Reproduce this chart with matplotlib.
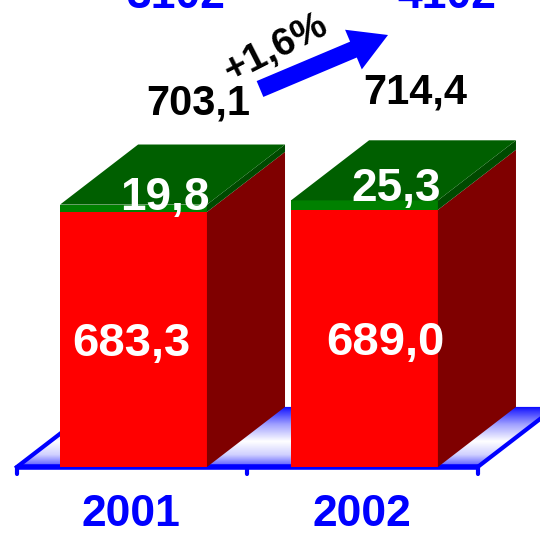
"""3D-style stacked bars: 2001 vs 2002 totals."""

import matplotlib
matplotlib.use('Agg')
import matplotlib.pyplot as plt
import numpy as np
from matplotlib.patches import Polygon
from matplotlib.colors import LinearSegmentedColormap

years = ['2001', '2002']
base_values = [683.3, 689.0]
top_values = [19.8, 25.3]
totals = [703.1, 714.4]
base_labels = ['683,3', '689,0']
top_labels = ['19,8', '25,3']
total_labels = ['703,1', '714,4']
change_label = '+1,6%'
header_labels = ['3102', '4102']

plt.rcParams['font.family'] = ['Liberation Sans', 'DejaVu Sans']
plt.rcParams['font.weight'] = 'bold'

W, H = 540, 534
fig = plt.figure(figsize=(W / 100, H / 100), dpi=100)
ax = fig.add_axes([0, 0, 1, 1])
ax.set_xlim(-0.578, 1.760)
ax.set_ylim(-179.5, 1251.3)
ax.axis('off')

# depth of the fake 3D extrusion (in data units)
ddx = 0.338
ddy = 161.0
width = 0.636
x = np.arange(len(years))

# floor
xl, xr = -0.505, 1.49
floor = Polygon([(xl, 0), (xr, 0), (xr + ddx, ddy), (xl + ddx, ddy)],
                closed=True, facecolor='none', edgecolor='none')
ax.add_patch(floor)
cmap = LinearSegmentedColormap.from_list(
    'floor', [(0.0, '#0000ff'), (0.08, '#3333ff'), (0.3, '#a0a0ff'),
              (0.58, '#ffffff'), (0.8, '#d0d0ff'), (1.0, '#5050ff')])
grad = np.linspace(0, 1, 256).reshape(-1, 1)
im = ax.imshow(grad, cmap=cmap, aspect='auto', origin='upper',
               extent=(xl, xr + ddx, 0, ddy), zorder=1)
im.set_clip_path(floor)
ax.plot([xl, xr], [0, 0], color='#0000ff', lw=4, zorder=2,
        solid_capstyle='butt')
ax.plot([xl, xl + ddx], [0, ddy], color='#0000ff', lw=3, zorder=2)
ax.plot([xr, xr + ddx], [0, ddy], color='#0000ff', lw=3, zorder=2)
for t in [xl, (xl + xr) / 2, xr]:
    ax.plot([t, t], [0, -18], color='#0000ff', lw=3, zorder=2,
            solid_capstyle='round')

# bars
for i in x:
    left, right = i - width / 2, i + width / 2
    b, tot = base_values[i], totals[i]
    # front faces
    ax.add_patch(Polygon([(left, 0), (right, 0), (right, b), (left, b)],
                         facecolor='#ff0000', edgecolor='none', zorder=3))
    ax.add_patch(Polygon([(left, b), (right, b), (right, tot), (left, tot)],
                         facecolor='#008000', edgecolor='none', zorder=3))
    # side faces
    ax.add_patch(Polygon([(right, 0), (right + ddx, ddy),
                          (right + ddx, b + ddy), (right, b)],
                         facecolor='#7f0000', edgecolor='none', zorder=3))
    ax.add_patch(Polygon([(right, b), (right + ddx, b + ddy),
                          (right + ddx, tot + ddy), (right, tot)],
                         facecolor='#004a00', edgecolor='none', zorder=3))
    # top face
    ax.add_patch(Polygon([(left, tot), (right, tot),
                          (right + ddx, tot + ddy), (left + ddx, tot + ddy)],
                         facecolor='#005f00', edgecolor='none', zorder=3))

    ax.text(i - 0.01 + 0.1 * i, b / 2 - 11, base_labels[i], color='white',
            fontsize=34, ha='center', va='center', zorder=5)
    ax.text(i + 0.135, tot + 18 + 12 * i, top_labels[i], color='white',
            fontsize=33, ha='center', va='center', zorder=5)
    ax.text(i + 0.28 - 0.06 * i, tot + 270 + 20 * i, total_labels[i],
            color='black', fontsize=30, ha='center', va='center', zorder=5)
    ax.text(i - 0.01, -127, years[i], color='#0000ff', fontsize=32,
            ha='center', va='center', zorder=5)

# growth arrow (figure pixels, origin bottom-left)
ax.annotate('', xy=(388, H - 35), xytext=(260, H - 89),
            xycoords='figure pixels', textcoords='figure pixels',
            arrowprops=dict(arrowstyle='simple,head_length=1.35,'
                            'head_width=1.55,tail_width=0.62',
                            mutation_scale=20, color='#0000ff', lw=0,
                            shrinkA=0, shrinkB=0), zorder=4)
fig.text(276 / W, 1 - 48 / H, change_label, rotation=27,
         fontsize=28, ha='center', va='center', color='black')

# header labels cut off at top edge, as in the source slide
fig.text(176 / W, 1 - 8 / H, header_labels[0], color='#0000ff',
         fontsize=32, ha='center', va='baseline')
fig.text(447 / W, 1 - 8 / H, header_labels[1], color='#0000ff',
         fontsize=32, ha='center', va='baseline')

fig.savefig('out.png', dpi=100)
